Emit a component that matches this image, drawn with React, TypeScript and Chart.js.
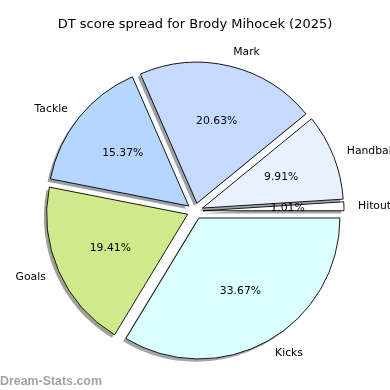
import React, { useEffect, useRef } from "react";
import { Chart, registerables, ArcElement } from "chart.js";

Chart.register(...registerables);

// Data (matplotlib order: counter-clockwise from east)
const categories = ["Hitout", "Handball", "Mark", "Tackle", "Goals", "Kicks"];
const percentages = [1.01, 9.91, 20.63, 15.37, 19.41, 33.67];
const sliceColors = ["#ffffff", "#e9f0ff", "#c6d9ff", "#b5d6ff", "#d0ea8b", "#dbffff"];
const titleText = "DT score spread for Brody Mihocek (2025)";
const watermarkText = "Dream-Stats.com";

// Chart.js draws clockwise, so reverse to mimic matplotlib's counter-clockwise order
const labelsCJ = [...categories].reverse();
const valuesCJ = [...percentages].reverse();
const colorsCJ = [...sliceColors].reverse();

const RADIUS = 141;
const EXPLODE = 8;
const SHADOW_DX = -2.8;
const SHADOW_DY = 2.8;
const FONT = "'DejaVu Sans', sans-serif";

function hexToRgb(h: string) {
  const n = parseInt(h.slice(1), 16);
  return [(n >> 16) & 255, (n >> 8) & 255, n & 255];
}

const piePlugin = {
  id: "mplPie",
  beforeDatasetsDraw(chart: any) {
    const ctx = chart.ctx;
    const meta = chart.getDatasetMeta(0);
    meta.data.forEach((el: any, i: number) => {
      if (!el.__patched) {
        el.__patched = true;
        el.draw = function (c: CanvasRenderingContext2D, area: any) {
          const h = (this.startAngle + this.endAngle) / 2;
          c.save();
          c.translate(Math.cos(h) * EXPLODE, Math.sin(h) * EXPLODE);
          ArcElement.prototype.draw.call(this, c, area);
          c.restore();
        };
      }
      // shadow (drawn beneath all wedges)
      const h = (el.startAngle + el.endAngle) / 2;
      const [r, g, b] = hexToRgb(colorsCJ[i]);
      ctx.save();
      ctx.translate(Math.cos(h) * EXPLODE + SHADOW_DX, Math.sin(h) * EXPLODE + SHADOW_DY);
      ctx.beginPath();
      ctx.moveTo(el.x, el.y);
      ctx.arc(el.x, el.y, el.outerRadius, el.startAngle, el.endAngle);
      ctx.closePath();
      ctx.fillStyle = `rgba(${Math.round(r * 0.3)},${Math.round(g * 0.3)},${Math.round(b * 0.3)},0.5)`;
      ctx.fill();
      ctx.restore();
    });
  },
  afterDatasetsDraw(chart: any) {
    const ctx = chart.ctx;
    const meta = chart.getDatasetMeta(0);
    ctx.save();
    ctx.fillStyle = "#000";
    ctx.font = `10.8px ${FONT}`;
    ctx.textBaseline = "middle";
    meta.data.forEach((el: any, i: number) => {
      const h = (el.startAngle + el.endAngle) / 2;
      const R = el.outerRadius;
      const cx = el.x + Math.cos(h) * EXPLODE;
      const cy = el.y + Math.sin(h) * EXPLODE;
      // category label
      const lx = cx + Math.cos(h) * R * 1.1;
      const ly = cy + Math.sin(h) * R * 1.1;
      ctx.textAlign = Math.cos(h) > 0 ? "left" : "right";
      ctx.fillText(chart.data.labels[i], lx, ly);
      // percentage
      const px = cx + Math.cos(h) * R * 0.6;
      const py = cy + Math.sin(h) * R * 0.6;
      ctx.textAlign = "center";
      ctx.fillText(valuesCJ[i].toFixed(2) + "%", px, py);
    });
    ctx.restore();
  },
  afterDraw(chart: any) {
    const ctx = chart.ctx;
    ctx.save();
    ctx.fillStyle = "#000";
    ctx.font = `13px ${FONT}`;
    ctx.textAlign = "center";
    ctx.textBaseline = "middle";
    ctx.fillText(titleText, 195, 25);
    ctx.fillStyle = "#a3a3a3";
    ctx.font = `bold 12.4px 'Liberation Sans', Arial, sans-serif`;
    ctx.textAlign = "left";
    ctx.textBaseline = "alphabetic";
    ctx.fillText(watermarkText, 0, 385);
    ctx.restore();
  },
};

export default function App() {
  const ref = useRef<HTMLCanvasElement | null>(null);
  useEffect(() => {
    if (!ref.current) return;
    const chart = new Chart(ref.current, {
      type: "pie",
      data: {
        labels: labelsCJ,
        datasets: [
          {
            data: valuesCJ,
            backgroundColor: colorsCJ,
            borderColor: "#000",
            borderWidth: 0.9,
            borderJoinStyle: "miter",
            offset: 0,
          } as any,
        ],
      },
      plugins: [piePlugin],
      options: {
        responsive: false,
        animation: false,
        rotation: 90,
        radius: RADIUS,
        layout: { padding: { top: 32, bottom: 0, left: 0, right: 0 } },
        plugins: {
          legend: { display: false },
          tooltip: { enabled: false },
          title: { display: false },
        },
        events: [],
      } as any,
    });
    return () => chart.destroy();
  }, []);
  return (
    <div style={{ position: "fixed", left: 0, top: 0, width: 390, height: 390, background: "#fff" }}>
      <canvas ref={ref} width={390} height={390} style={{ width: 390, height: 390 }} />
    </div>
  );
}
